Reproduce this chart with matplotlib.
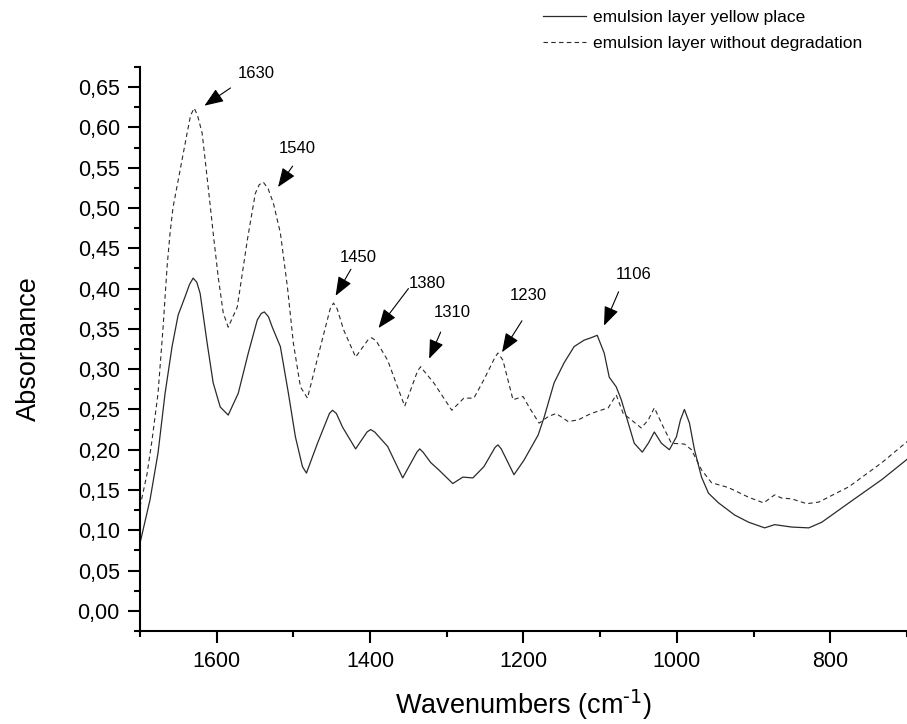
import matplotlib
matplotlib.use("Agg")
import matplotlib.pyplot as plt
from matplotlib.ticker import MultipleLocator, FuncFormatter

plt.rcParams['font.family'] = ['Liberation Sans', 'DejaVu Sans']

# emulsion layer yellow place (solid)
wn_yellow = [1700, 1686.9, 1676.5, 1667.3, 1658.2, 1650.3, 1641.2, 1635.5, 1630.7, 1626.0, 1621.6, 1612.4,
             1604.6, 1595.4, 1585.0, 1571.9, 1558.8, 1547.1, 1542.0, 1537.9, 1532.5, 1527.5, 1517.0, 1506.5,
             1497.4, 1488.2, 1483.0, 1468.6, 1453.0, 1449.0, 1444.0, 1435.9, 1418.9, 1404.0, 1399.3, 1394.0, 1377.1, 1357.5,
             1339.0, 1335.3, 1331.0, 1320.9, 1310.5, 1292.2, 1279.1, 1266.0, 1251.6, 1237.0, 1233.3, 1229.0, 1212.4, 1199.4,
             1181.0, 1173.2, 1160.1, 1147.0, 1134.0, 1120.9, 1111.8, 1103.9, 1094.8, 1088.2,
             1079.1, 1072.5, 1063.4, 1055.6, 1045.1, 1037.3, 1029.4, 1020.2, 1009.8, 1000.6,
             995.4, 990.2, 983.6, 977.1, 967.9, 958.8, 945.7, 924.8, 906.5, 885.6,
             872.5, 850.3, 828.1, 811.1, 775.8, 732.7, 697.4]
abs_yellow = [0.084, 0.138, 0.196, 0.270, 0.328, 0.367, 0.390, 0.405, 0.413, 0.408, 0.394, 0.332,
              0.283, 0.253, 0.243, 0.270, 0.320, 0.361, 0.369, 0.371, 0.365, 0.352, 0.328, 0.270,
              0.216, 0.179, 0.171, 0.208, 0.245, 0.249, 0.245, 0.228, 0.201, 0.222, 0.225, 0.222, 0.204, 0.165,
              0.197, 0.201, 0.197, 0.184, 0.175, 0.158, 0.166, 0.165, 0.179, 0.203, 0.206, 0.201, 0.169, 0.187,
              0.218, 0.240, 0.283, 0.308, 0.328, 0.336, 0.339, 0.342, 0.320, 0.290,
              0.278, 0.262, 0.233, 0.208, 0.197, 0.208, 0.222, 0.208, 0.200, 0.216,
              0.237, 0.250, 0.233, 0.200, 0.166, 0.146, 0.134, 0.119, 0.110, 0.103,
              0.107, 0.104, 0.103, 0.110, 0.134, 0.163, 0.190]

# emulsion layer without degradation (dashed)
wn_ref = [1700, 1690.8, 1684.3, 1676.5, 1669.9, 1664.7, 1660.8, 1656.9, 1647.7, 1638.6,
          1634.0, 1629.4, 1625.0, 1619.0, 1611.1, 1604.6, 1598.0, 1591.5, 1585.0, 1573.2, 1560.1, 1549.7,
          1544.5, 1539.2, 1533.0, 1526.1, 1517.0, 1507.8, 1500.0, 1490.8, 1481.7, 1464.7, 1452.0, 1447.7, 1443.0, 1434.6,
          1418.9, 1403.0, 1398.0, 1392.0, 1377.1, 1354.9, 1338.0, 1334.0, 1330.0, 1317.0, 1293.5, 1277.8, 1264.7, 1251.6,
          1237.0, 1233.3, 1226.8, 1213.7, 1200.6, 1192.8, 1179.7, 1168.0, 1157.5, 1141.8, 1128.7,
          1111.8, 1089.5, 1079.1, 1070.0, 1059.5, 1046.4, 1037.3, 1029.4, 1017.6, 1007.2,
          990.2, 981.0, 967.9, 954.8, 932.7, 906.5, 886.9, 872.5, 863.4, 850.3,
          830.7, 815.0, 775.8, 732.7, 697.4]
abs_ref = [0.129, 0.170, 0.212, 0.270, 0.352, 0.427, 0.469, 0.501, 0.547, 0.593,
           0.615, 0.624, 0.615, 0.593, 0.526, 0.469, 0.414, 0.370, 0.352, 0.377, 0.460, 0.518,
           0.529, 0.532, 0.524, 0.506, 0.469, 0.402, 0.332, 0.278, 0.264, 0.328, 0.375, 0.382, 0.375, 0.349,
           0.315, 0.336, 0.339, 0.335, 0.311, 0.254, 0.298, 0.303, 0.298, 0.283, 0.249, 0.264, 0.264, 0.287,
           0.315, 0.320, 0.311, 0.262, 0.266, 0.253, 0.233, 0.241, 0.245, 0.235, 0.237,
           0.245, 0.252, 0.268, 0.245, 0.237, 0.227, 0.237, 0.252, 0.228, 0.208,
           0.207, 0.200, 0.175, 0.159, 0.153, 0.141, 0.134, 0.144, 0.140, 0.139,
           0.133, 0.135, 0.154, 0.184, 0.212]

# peak annotations: label, arrow head (wn, abs), arrow tail, text centre
peak_labels = ["1630", "1540", "1450", "1380", "1310", "1230", "1106"]
peak_heads = [(1616, 0.627), (1520, 0.526), (1445, 0.391), (1389, 0.351), (1323, 0.313), (1228, 0.321), (1095, 0.354)]
peak_tails = [(1582, 0.649), (1501, 0.552), (1425, 0.424), (1350, 0.400), (1308, 0.346), (1202, 0.360), (1076, 0.396)]
peak_text = [(1548, 0.667), (1495, 0.574), (1415, 0.439), (1326, 0.406), (1293, 0.370), (1194, 0.391), (1056, 0.418)]

fig = plt.figure(figsize=(9.07, 7.24), dpi=100)
ax = fig.add_axes([140/907, 1 - 631/724, 1 - 140/907, (631 - 67)/724])

l1, = ax.plot(wn_yellow, abs_yellow, color='#2a2a2a', lw=0.9, label='emulsion layer yellow place')
l2, = ax.plot(wn_ref, abs_ref, color='#2a2a2a', lw=0.8, linestyle=(0, (4, 3)),
              label='emulsion layer without degradation')

ax.set_xlim(1700, 700)
ax.set_ylim(-0.025, 0.675)
ax.xaxis.set_major_locator(MultipleLocator(200))
ax.xaxis.set_minor_locator(MultipleLocator(100))
ax.yaxis.set_major_locator(MultipleLocator(0.05))
ax.yaxis.set_minor_locator(MultipleLocator(0.025))
ax.yaxis.set_major_formatter(FuncFormatter(lambda v, p: f"{v:.2f}".replace('.', ',').replace('-0,00', '0,00')))
ax.xaxis.set_major_formatter(FuncFormatter(lambda v, p: f"{v:.0f}"))

for s in ['top', 'right']:
    ax.spines[s].set_visible(False)
for s in ['left', 'bottom']:
    ax.spines[s].set_linewidth(1.5)
ax.tick_params(which='major', direction='out', length=8.5, width=1.5, labelsize=15.5, pad=6)
ax.tick_params(which='minor', direction='out', length=4.3, width=1.5)

ax.set_ylabel('Absorbance', fontsize=19.5, labelpad=26)
ax.set_xlabel('Wavenumbers (cm$^{\\text{-1}}$)', fontsize=19.5, labelpad=11)

for lab, head, tail, txt in zip(peak_labels, peak_heads, peak_tails, peak_text):
    ax.annotate('', xy=head, xytext=tail,
                arrowprops=dict(arrowstyle='-|>,head_length=0.9,head_width=0.35', color='black', lw=0.8,
                                shrinkA=0, shrinkB=0, mutation_scale=13))
    ax.text(txt[0], txt[1], lab, fontsize=12, ha='center', va='center')

fig.legend(handles=[l1, l2], loc='upper left', bbox_to_anchor=(543/907, 1 - 10/724),
           frameon=False, fontsize=12.5, handlelength=2.5, handletextpad=0.4,
           borderpad=0, borderaxespad=0, labelspacing=0.62)

fig.savefig('out.png', dpi=100)
